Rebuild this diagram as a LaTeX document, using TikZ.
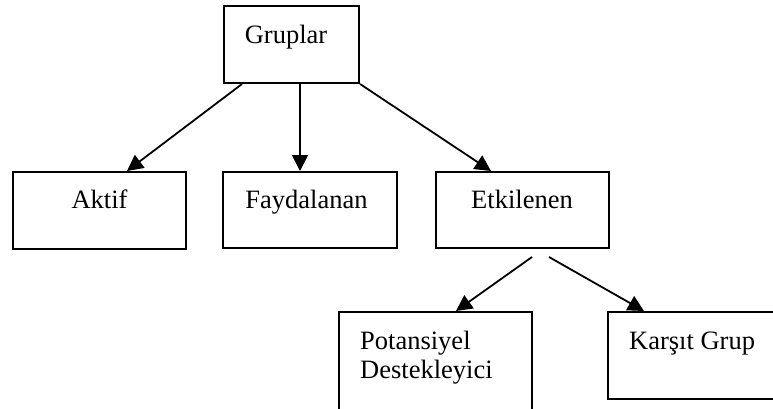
\documentclass[tikz,border=0pt]{standalone}
\usepackage{fontspec}
\setmainfont{Liberation Serif}
\usetikzlibrary{arrows.meta}
\begin{document}
\begin{tikzpicture}[x=1pt,y=-1pt,
  box/.style={draw,line width=2pt,rectangle,inner sep=0pt},
  lbl/.style={inner sep=0pt,font=\fontsize{26.5}{31}\selectfont},
  conn/.style={line width=1.8pt,-{Triangle[length=16pt,width=16pt]}}]
\useasboundingbox (0,0) rectangle (773,408);
\clip (0,0) rectangle (773,408);
\node[box,minimum width=135pt,minimum height=77pt] (g) at (291.5,44.5) {};
\node[box,minimum width=173pt,minimum height=77pt] (a) at (99.5,210.5) {};
\node[box,minimum width=174pt,minimum height=76pt] (f) at (310,210) {};
\node[box,minimum width=173pt,minimum height=76pt] (e) at (522.5,210) {};
\node[box,minimum width=193pt,minimum height=103pt] (p) at (435.5,363.5) {};
\node[box,minimum width=172pt,minimum height=87pt] (k) at (694,355.5) {};
\node[lbl,anchor=base] (gt) at (286,43) {Gruplar};
\node[lbl,anchor=base] (at) at (99.5,208) {Aktif};
\node[lbl,anchor=base] (ft) at (306.5,208) {Faydalanan};
\node[lbl,anchor=base] (et) at (522,208) {Etkilenen};
\node[lbl,anchor=base west] (pt1) at (360,349) {Potansiyel};
\node[lbl,anchor=base west] (pt2) at (360,378) {Destekleyici};
\node[lbl,anchor=base west] (kt) at (629,349) {Karşıt Grup};
\coordinate (es1) at ([xshift=97pt,yshift=-8pt]e.south west);
\coordinate (es2) at ([xshift=114pt,yshift=-8pt]e.south west);
\draw[conn] ([xshift=19pt]g.south west) -- ([xshift=115pt]a.north west);
\draw[conn] ([xshift=77pt]g.south west) -- ([xshift=78pt]f.north west);
\draw[conn] (g.south east) -- ([xshift=56pt]e.north west);
\draw[conn] (es1) -- ([xshift=118pt]p.north west);
\draw[conn] (es2) -- ([xshift=37pt]k.north west);
\end{tikzpicture}
\end{document}
